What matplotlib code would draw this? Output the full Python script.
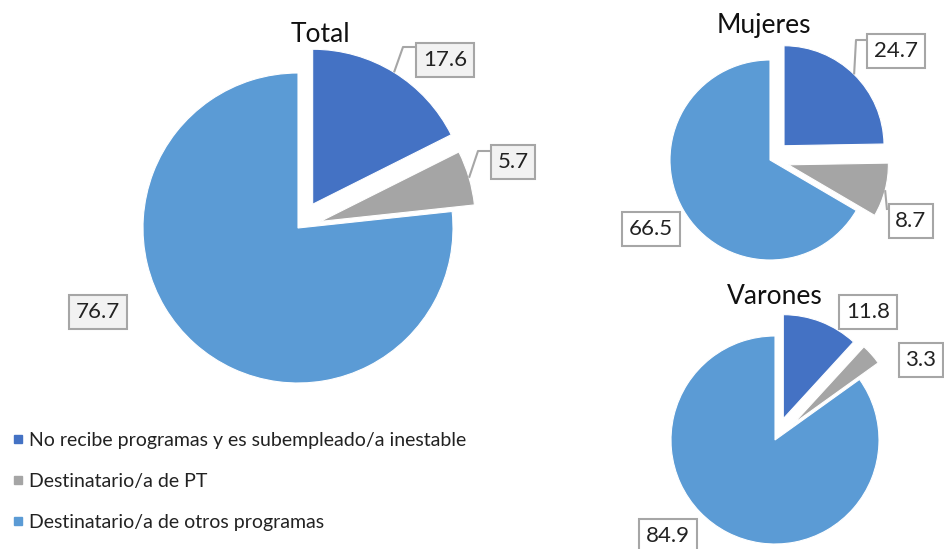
import numpy as np
import matplotlib.pyplot as plt
from matplotlib.lines import Line2D

plt.rcParams['font.family'] = ['Lato', 'DejaVu Sans']

categories = ['No recibe programas y es subempleado/a inestable',
              'Destinatario/a de PT',
              'Destinatario/a de otros programas']
colors = ['#4472C4', '#A5A5A5', '#5B9BD5']

total = [17.6, 5.7, 76.7]
mujeres = [24.7, 8.7, 66.5]
varones = [11.8, 3.3, 84.9]

W, H = 944, 549
fig = plt.figure(figsize=(W / 100, H / 100), dpi=100)
ax = fig.add_axes([0, 0, 1, 1])


def py(y):
    # pixel row (from top) -> data y (from bottom)
    return H - y


def draw_pie(values, center, r, explode, title, title_xy, label_xy, boxfill, leaders):
    cx, cy = center[0], py(center[1])
    ax.pie(values, colors=colors, startangle=90, counterclock=False,
           explode=[e * r for e in explode], center=(cx, cy), radius=r,
           wedgeprops=dict(edgecolor='white', linewidth=0.8))
    ax.text(title_xy[0], py(title_xy[1]), title, ha='center', va='center',
            fontsize=19, color='#111111')
    for v, (lx, ly) in zip(values, label_xy):
        ax.text(lx, py(ly), f'{v:.1f}', ha='center', va='center', fontsize=16,
                color='#222222',
                bbox=dict(boxstyle='square,pad=0.3', fc=boxfill, ec='#A6A6A6', lw=1.5))
    # leader lines from slice arc midpoint to label box
    start = 0.0
    tot = sum(values)
    for i, v in enumerate(values):
        mid = (start + v / 2) / tot * 2 * np.pi
        start += v
        if leaders[i] is None:
            continue
        dx, dy = np.sin(mid), np.cos(mid)
        ox, oy = cx + dx * r * (1 + explode[i]), cy + dy * r * (1 + explode[i])
        pts = [(ox, oy)] + [(x, py(y)) for x, y in leaders[i]]
        xs, ys = zip(*pts)
        ax.plot(xs, ys, color='#A6A6A6', lw=1.5, solid_capstyle='butt')


draw_pie(total, (298, 228), 155, [0.18, 0.15, 0], 'Total', (320, 35),
         [(445, 60), (513, 162), (98, 312)], '#F2F2F2',
         [[(403, 47), (415, 47)], [(478, 151), (490, 151)], None])

draw_pie(mujeres, (770, 160), 100, [0.2, 0.19, 0], 'Mujeres', (764, 25),
         [(896, 51), (911, 221), (651, 229)], 'white',
         [[(856, 40), (868, 40)], [(887, 210)], None])

draw_pie(varones, (775, 440), 104, [0.22, 0.24, 0], 'Varones', (775, 297),
         [(868, 312), (921, 360), (668, 536)], 'white',
         [None, None, None])

ax.set_xlim(0, W)
ax.set_ylim(0, H)
ax.set_aspect('equal')
ax.axis('off')

handles = [Line2D([], [], marker='s', linestyle='none', markersize=6,
                  markerfacecolor=c, markeredgecolor=c) for c in colors]
fig.legend(handles, categories, loc='upper left', bbox_to_anchor=(0.0, 1 - 418 / H),
           frameon=False, fontsize=14, handlelength=0.5, handletextpad=0.3,
           labelspacing=1.25, borderaxespad=0.3, labelcolor='#222222')

fig.savefig('out.png', dpi=100)
